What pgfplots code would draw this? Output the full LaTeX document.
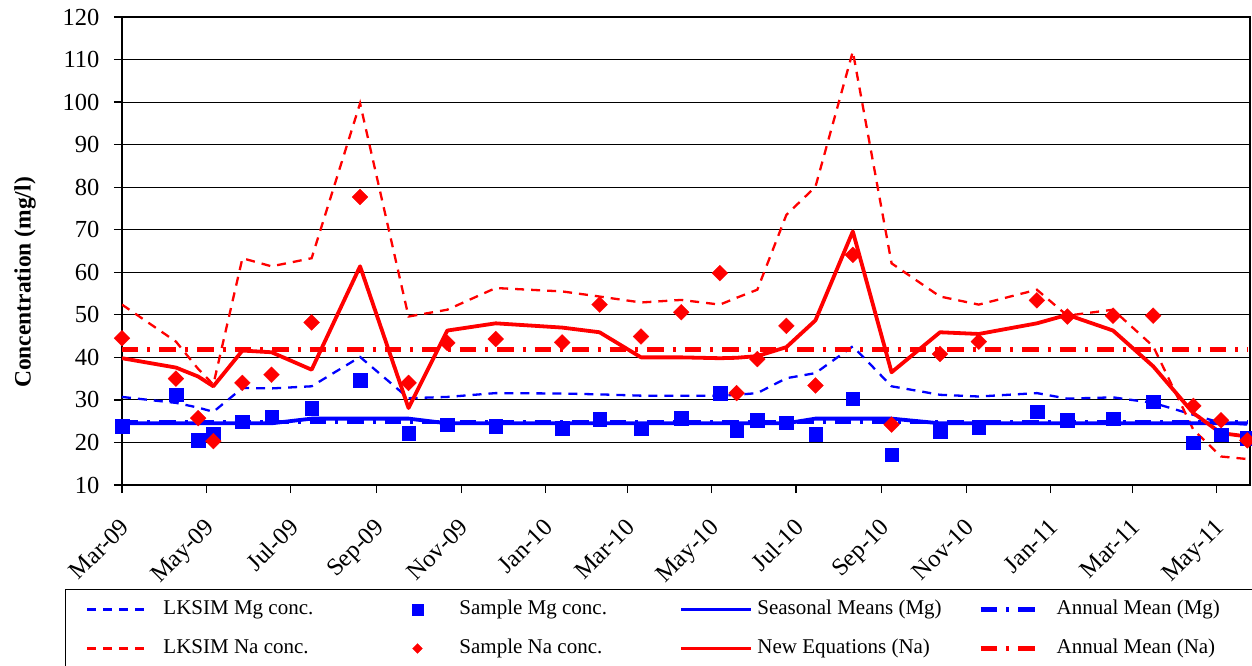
\documentclass[border=0pt]{standalone}
\usepackage{pgfplots}
\pgfplotsset{compat=1.18}
\usepackage{pgfplotstable}
\usepackage{fontspec}
\setmainfont{Liberation Serif}
\definecolor{cblue}{RGB}{0,0,255}
\definecolor{cred}{RGB}{255,0,0}

\pgfplotsset{
  legline/.style n args={3}{legend image code/.code={\path[draw=none,fill=none] (0pt,0pt) -- (#1,0pt); \draw[##1] (#2,0pt) -- (#3,0pt);}},
  legmark/.style={legend image code/.code={\path[draw=none,fill=none] (0pt,0pt) -- (64pt,0pt); \draw[##1] plot coordinates {(22pt,0pt)};}},
}

\pgfplotstableread{
day mg na
0 23.8 44.5
39 31.2 35.0
55 20.6 25.7
66 22.1 20.3
87 24.9 34.0
108 26.1 35.9
137 28.1 48.2
172 34.7 77.7
207 22.2 34.0
235 24.2 43.4
270 23.9 44.3
318 23.4 43.5
345 25.5 52.4
375 23.2 44.9
404 25.7 50.6
432 31.6 59.8
444 22.8 31.6
459 25.2 39.6
480 24.7 47.4
501 22.0 33.4
528 30.3 64.1
556 17.1 24.2
591 22.6 40.8
619 23.6 43.7
661 27.2 53.4
683 25.2 49.6
716 25.6 49.8
745 29.6 49.8
774 20.0 28.6
794 21.8 25.2
813 21.0 20.5
}\samples

\pgfplotstableread{
day lkmg lkna neweq
0 30.7 52.4 39.8
39 29.3 43.7 37.6
55 28.2 37.3 35.5
66 27.2 33.6 33.2
87 32.8 63.3 41.6
108 32.7 61.4 41.2
137 33.2 63.3 37.1
172 40.1 99.7 61.4
207 30.4 49.6 28.1
235 30.7 51.2 46.3
270 31.6 56.3 48.0
318 31.5 55.5 47.0
345 31.3 54.3 45.9
375 31.0 52.9 40.0
404 31.0 53.5 40.0
432 31.0 52.4 39.8
444 31.2 54.0 39.9
459 31.6 55.9 40.3
480 35.1 73.5 42.4
501 36.3 80.1 48.7
528 42.6 111.9 69.6
556 33.2 62.1 36.5
591 31.2 54.3 45.9
619 30.8 52.4 45.5
661 31.6 55.9 48.0
683 30.3 49.8 50.0
716 30.6 51.2 46.3
745 29.3 42.6 37.9
774 26.5 23.0 26.9
794 24.6 16.7 22.2
813 24.2 16.1 21.4
}\lines

\pgfplotstableread{
day val
0 24.5
108 24.5
137 25.6
207 25.6
235 24.5
480 24.5
501 25.6
556 25.6
591 24.5
813 24.5
}\seasonal

\begin{document}
\begin{tikzpicture}
\begin{axis}[
  scale only axis, width=1128pt, height=468pt,
  xmin=0, xmax=815, ymin=10, ymax=120,
  ytick={10,20,...,120},
  xtick={0,61,122,184,245,306,365,426,487,549,610,671,730,791},
  xticklabels={Mar-09,May-09,Jul-09,Sep-09,Nov-09,Jan-10,Mar-10,May-10,Jul-10,Sep-10,Nov-10,Jan-11,Mar-11,May-11},
  tick align=outside, tick pos=left, major tick length=8pt,
  every tick/.style={black, line width=1.2pt},
  axis line style={black, line width=2.6pt},
  ymajorgrids, major grid style={black, line width=1pt},
  tick label style={font=\fontsize{24.5}{29}\selectfont},
  /pgf/number format/assume math mode=true,
  yticklabel style={xshift=-11pt},
  xticklabel style={yshift=-24pt, xshift=-3pt, rotate=45, anchor=north east, inner sep=0pt},
  ylabel={Concentration (mg/l)},
  every axis y label/.style={at={(axis description cs:-0.086,0.4327)}, rotate=90, anchor=center, font=\bfseries\fontsize{23.5}{28}\selectfont},
  legend columns=4,
  legend style={at={(axis description cs:-0.05053,-0.2222)}, anchor=north west,
    draw=black, line width=1pt, fill=white, inner xsep=0pt, inner ysep=10pt,
    column sep=0pt, row sep=19pt, font=\fontsize{21}{25}\selectfont,
    cells={anchor=west}, nodes={text height=15pt, text depth=5pt, inner sep=0pt}},
]
% lines
\addplot[cblue, line width=2.3pt, dash pattern=on 9pt off 7pt, forget plot] table[x=day,y=lkmg]{\lines};
\addplot[cred, line width=2.3pt, dash pattern=on 9pt off 7pt, forget plot] table[x=day,y=lkna]{\lines};
\addplot[cblue, line width=3.8pt, line join=round, forget plot] table[x=day,y=val]{\seasonal};
\addplot[cred, line width=3.8pt, line join=round, forget plot] table[x=day,y=neweq]{\lines};
\addplot[cblue, line width=4.5pt, dash pattern=on 16.5pt off 9pt on 3pt off 9pt, forget plot] coordinates {(0,24.8) (813,24.8)};
\addplot[cred, line width=4.5pt, dash pattern=on 16.5pt off 9pt on 3pt off 9pt, forget plot] coordinates {(0,41.8) (813,41.8)};
% samples
\addplot[only marks, mark=square*, mark size=6.8pt, mark options={solid, fill=cblue, draw=cblue, line width=0.3pt}, forget plot] table[x=day,y=mg]{\samples};
\addplot[only marks, mark=square*, mark size=5.6pt, mark options={solid, fill=cred, draw=cred, line width=0.3pt, rotate=45}, forget plot] table[x=day,y=na]{\samples};

% legend
\addlegendimage{cblue, line width=2.3pt, dash pattern=on 9pt off 7pt, legline={98pt}{22pt}{85pt}}
\addlegendentry{\makebox[232pt][l]{LKSIM Mg conc.}}
\addlegendimage{only marks, mark=square*, mark size=5.3pt, mark options={solid, fill=cblue, draw=cblue, line width=0.3pt}, legmark}
\addlegendentry{\makebox[220pt][l]{Sample Mg conc.}}
\addlegendimage{cblue, line width=3.8pt, legline={76pt}{0pt}{70pt}}
\addlegendentry{\makebox[221pt][l]{Seasonal Means (Mg)}}
\addlegendimage{cblue, line width=4.5pt, dash pattern=on 16.5pt off 9pt on 3pt off 9pt, legline={76pt}{0pt}{57pt}}
\addlegendentry{\makebox[198pt][l]{Annual Mean (Mg)}}
\addlegendimage{cred, line width=2.3pt, dash pattern=on 9pt off 7pt, legline={98pt}{22pt}{85pt}}
\addlegendentry{\makebox[232pt][l]{LKSIM Na conc.}}
\addlegendimage{only marks, mark=square*, mark size=3.5pt, mark options={solid, fill=cred, draw=cred, line width=0.3pt, rotate=45}, legmark}
\addlegendentry{\makebox[220pt][l]{Sample Na conc.}}
\addlegendimage{cred, line width=3.8pt, legline={76pt}{0pt}{70pt}}
\addlegendentry{\makebox[221pt][l]{New Equations (Na)}}
\addlegendimage{cred, line width=4.5pt, dash pattern=on 16.5pt off 9pt on 3pt off 9pt, legline={76pt}{0pt}{57pt}}
\addlegendentry{\makebox[198pt][l]{Annual Mean (Na)}}
\end{axis}
\pgfresetboundingbox
\path[use as bounding box] (-122pt,-181pt) rectangle (1130pt,485pt);
\end{tikzpicture}
\end{document}
